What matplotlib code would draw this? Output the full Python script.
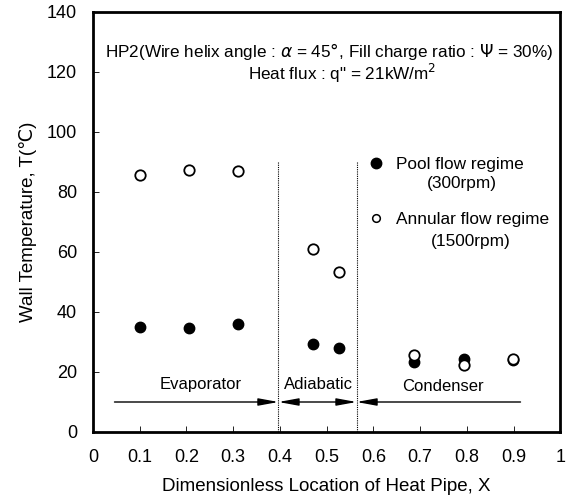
import matplotlib

matplotlib.use("Agg")
import matplotlib.pyplot as plt
from matplotlib.lines import Line2D

plt.rcParams["font.family"] = ["Liberation Sans", "DejaVu Sans"]

# measured locations (dimensionless) and wall temperatures
X_POOL = [0.10, 0.205, 0.31, 0.471, 0.526, 0.686, 0.793, 0.899]
T_POOL = [35.1, 34.6, 36.1, 29.5, 27.9, 23.5, 24.4, 24.0]
X_ANNULAR = [0.10, 0.205, 0.31, 0.471, 0.526, 0.686, 0.793, 0.899]
T_ANNULAR = [85.8, 87.2, 87.0, 60.9, 53.2, 25.8, 22.2, 24.5]

EVAP_END = 0.397
COND_START = 0.564
ARROW_LEFT = 0.046
ARROW_RIGHT = 0.915
ARROW_Y = 10
DIVIDER_TOP = 90

X_TICKS = [0, 0.1, 0.2, 0.3, 0.4, 0.5, 0.6, 0.7, 0.8, 0.9, 1]
X_TICK_LABELS = ["0", "0.1", "0.2", "0.3", "0.4", "0.5", "0.6", "0.7", "0.8", "0.9", "1"]
Y_TICKS = [0, 20, 40, 60, 80, 100, 120, 140]

fig = plt.figure(figsize=(5.74, 5.0), dpi=100)
ax = fig.add_axes([0.162, 0.136, 0.814, 0.840])

ax.plot(X_POOL, T_POOL, "o", color="black", markersize=7.5, zorder=3)
ax.plot(X_ANNULAR, T_ANNULAR, "o", markerfacecolor="white", markeredgecolor="black",
        markeredgewidth=1.3, markersize=7.5, zorder=4)

# region dividers
for xv in (EVAP_END, COND_START):
    ax.plot([xv, xv], [0, DIVIDER_TOP], color="black", linestyle=(0, (1, 1)), linewidth=0.8)

# region arrows
head = "-|>,head_length=1.2,head_width=0.22"
arrow = dict(arrowstyle=head, color="black", lw=1.0, mutation_scale=10, shrinkA=0, shrinkB=0)
ax.annotate("", xy=(EVAP_END, ARROW_Y), xytext=(ARROW_LEFT, ARROW_Y), arrowprops=arrow)
ax.annotate("", xy=(COND_START, ARROW_Y), xytext=(EVAP_END, ARROW_Y),
            arrowprops=dict(arrow, arrowstyle="<|-|>,head_length=1.2,head_width=0.22"))
ax.annotate("", xy=(COND_START, ARROW_Y), xytext=(ARROW_RIGHT, ARROW_Y), arrowprops=arrow)

ax.text(0.231, 15.7, "Evaporator", ha="center", va="center", fontsize=12)
ax.text(0.482, 15.9, "Adiabatic", ha="center", va="center", fontsize=12)
ax.text(0.75, 15.2, "Condenser", ha="center", va="center", fontsize=12)

ax.text(0.506, 126.8, "HP2(Wire helix angle : $\\alpha$ = 45$\\degree$, Fill charge ratio : $\\Psi$ = 30%)",
        ha="center", va="center", fontsize=12.3)
ax.text(0.534, 119.6, "Heat flux : q\" = 21kW/m$^2$", ha="center", va="center", fontsize=12.3)

handles = [
    Line2D([], [], linestyle="none", marker="o", color="black", markersize=7.5),
    Line2D([], [], linestyle="none", marker="o", markerfacecolor="white",
           markeredgecolor="black", markeredgewidth=1.1, markersize=5.5),
]
leg = ax.legend(handles, ["Pool flow regime", "Annular flow regime"], loc="upper left",
                bbox_to_anchor=(0.588, 0.656), frameon=False, fontsize=12.4,
                handlelength=1.0, handletextpad=0.66, labelspacing=2.33,
                borderpad=0, borderaxespad=0)
ax.text(0.790, 82.8, "(300rpm)", ha="center", va="center", fontsize=12.4)
ax.text(0.808, 63.6, "(1500rpm)", ha="center", va="center", fontsize=12.4)

ax.set_xlim(0, 1)
ax.set_ylim(0, 140)
ax.set_xticks(X_TICKS)
ax.set_xticklabels(X_TICK_LABELS)
ax.set_yticks(Y_TICKS)
ax.tick_params(axis="both", direction="in", length=4, width=0.6, labelsize=13)
ax.tick_params(axis="x", pad=12)
ax.tick_params(axis="y", pad=11.5)
for spine in ax.spines.values():
    spine.set_linewidth(2.0)

ax.set_xlabel("Dimensionless Location of Heat Pipe, X", fontsize=13.5, labelpad=9)
ax.set_ylabel("Wall Temperature, T(\u2103)", fontsize=13.5, labelpad=7)

fig.savefig("out.png")
